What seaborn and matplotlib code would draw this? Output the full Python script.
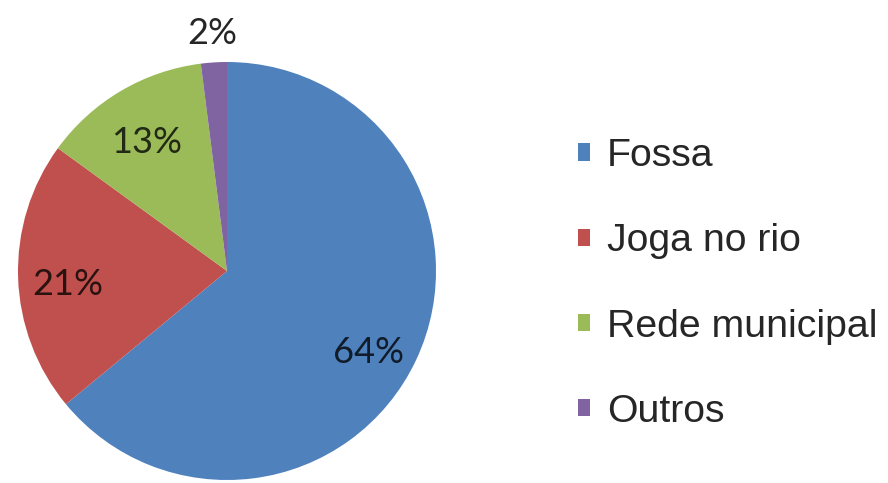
import numpy as np
import matplotlib
matplotlib.use("Agg")
import matplotlib.pyplot as plt
import matplotlib.transforms as mtransforms
from matplotlib.patches import Patch
from matplotlib.colors import to_rgb
import seaborn as sns

categories = ["Fossa", "Joga no rio", "Rede municipal", "Outros"]
shares = [64, 21, 13, 2]
slice_colors = ["#4F81BD", "#C0504D", "#9BBB59", "#8064A2"]

sns.set_theme(style="white")
plt.rcParams["font.family"] = ["Liberation Sans", "DejaVu Sans"]
palette = sns.color_palette(slice_colors)

W, H = 888, 483
fig = plt.figure(figsize=(W / 100, H / 100), dpi=100)
fig.patch.set_facecolor("white")

cx, cy, r = 227, 271, 209
ax = fig.add_axes([(cx - r) / W, (H - cy - r) / H, 2 * r / W, 2 * r / H])

wedges, texts, autotexts = ax.pie(
    shares,
    colors=palette,
    startangle=90,
    counterclock=False,
    radius=1.0,
    autopct=lambda p: f"{p:.0f}%",
    pctdistance=0.75,
    wedgeprops=dict(linewidth=0),
    textprops=dict(family=["Lato", "DejaVu Sans"], fontsize=26, color="#262626"),
)
ax.set_xlim(-1, 1)
ax.set_ylim(-1, 1)
ax.set_aspect("equal")

# inside labels sit a few points lower than the geometric anchor
inner_shift = mtransforms.offset_copy(ax.transData, fig=fig, x=0, y=-4, units="points")

for w, t, v, c in zip(wedges, autotexts, shares, palette):
    mid = (w.theta1 + w.theta2) / 2
    if v < 5:
        # thin slice: percentage sits just outside the rim
        ang = np.deg2rad(mid)
        t.set_position((1.14 * np.cos(ang), 1.14 * np.sin(ang)))
        t.set_va("center")
    else:
        if v == max(shares):
            mid -= 2
        ang = np.deg2rad(mid)
        t.set_position((0.76 * np.cos(ang), 0.76 * np.sin(ang)))
        t.set_va("center_baseline")
        t.set_transform(inner_shift)
        # labels inside a slice take a dark shade of that slice's colour
        t.set_color(tuple(0.22 * np.array(to_rgb(c))))
    t.set_ha("center")

handles = [Patch(facecolor=c, edgecolor="none") for c in palette]
fig.legend(
    handles, categories,
    loc="center left",
    bbox_to_anchor=(578 / W, 1 - 284 / H),
    frameon=False,
    fontsize=28.3,
    handlelength=0.31,
    handleheight=0.31,
    handletextpad=0.42,
    labelspacing=1.25,
    borderpad=0,
    borderaxespad=0,
)

fig.savefig("out.png", dpi=100, facecolor="white")
